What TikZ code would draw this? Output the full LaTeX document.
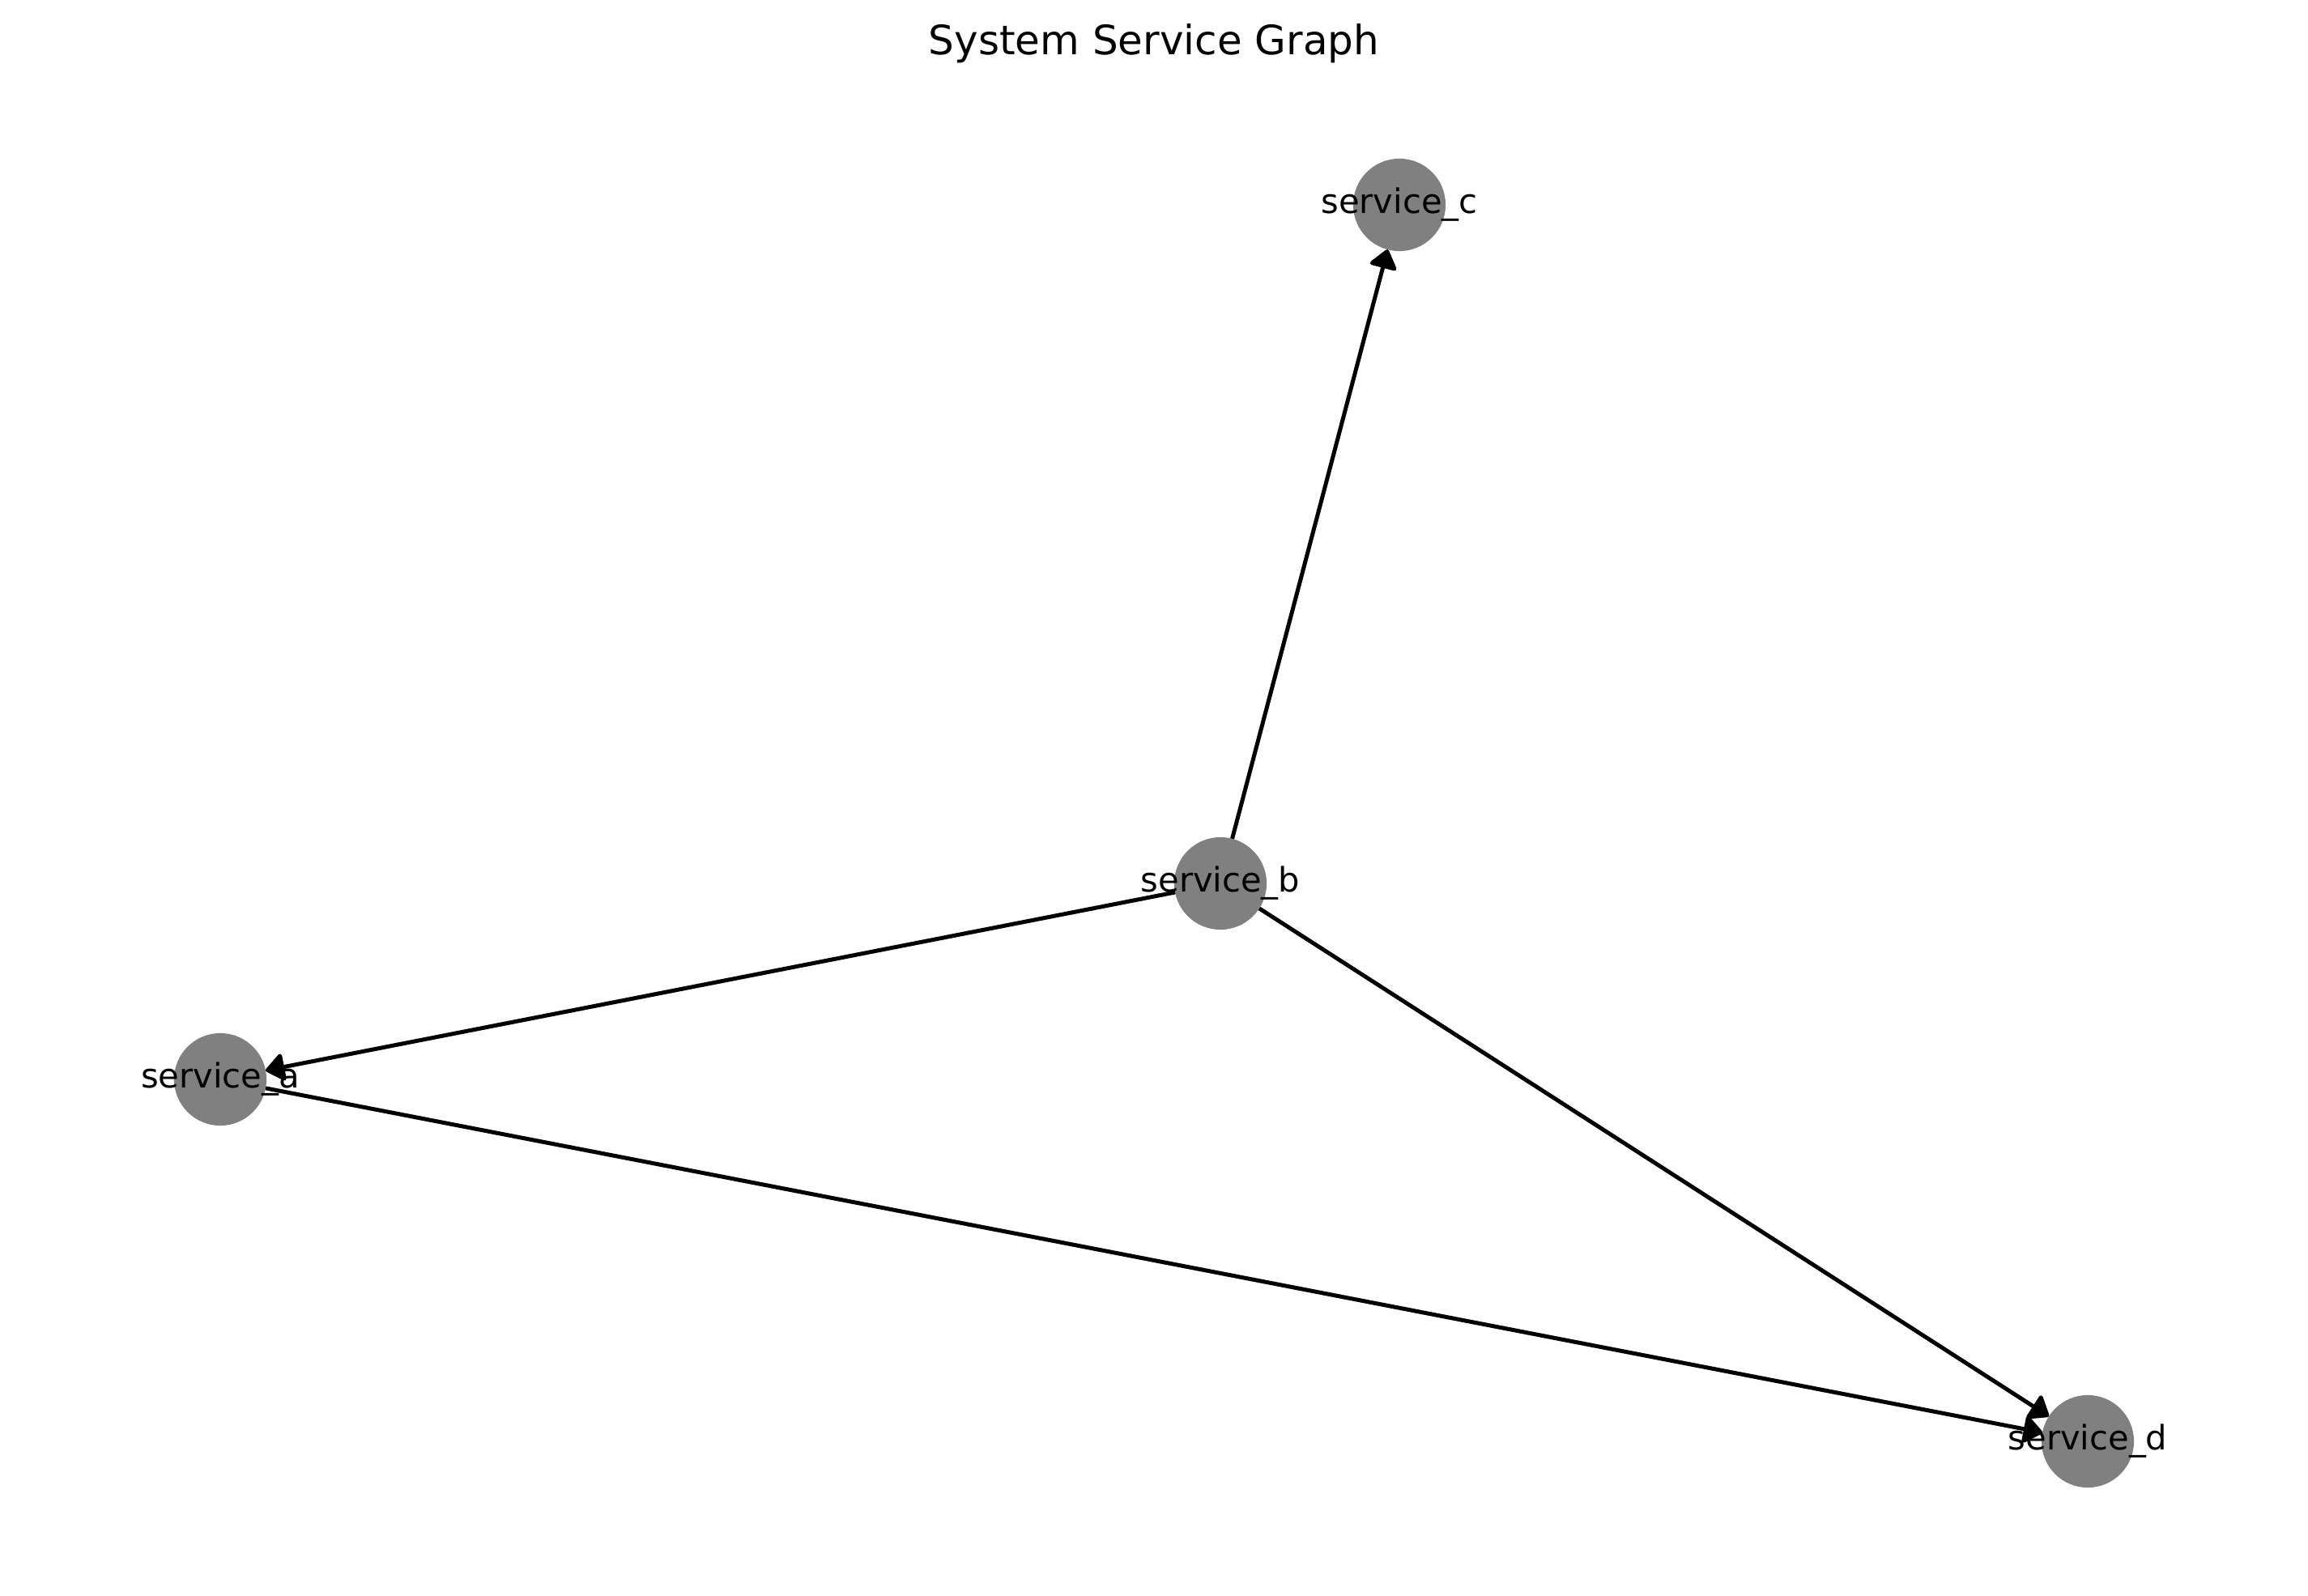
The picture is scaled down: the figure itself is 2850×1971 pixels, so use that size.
\documentclass[tikz,border=0pt]{standalone}
\usepackage{fontspec}
\setmainfont{DejaVu Sans}
\usetikzlibrary{arrows.meta}
\begin{document}
\begin{tikzpicture}[x=0.24pt,y=-0.24pt,
  svc/.style={circle,fill={rgb,255:red,128;green,128;blue,128},draw=none,
    minimum size=27.4pt,inner sep=0pt,outer sep=0pt},
  svclabel/.style={font=\fontsize{10}{12}\selectfont,inner sep=0pt,anchor=center},
  dep/.style={line width=1.2pt,-{Triangle[length=6pt,width=9pt,round]}}]
  \useasboundingbox (0,0) rectangle (2850,1971);
  \node[font=\fontsize{12}{14}\selectfont,anchor=base] (title) at (1425,68) {System Service Graph};
  % service nodes
  \node[svc] (a) at (272,1333) {};
  \node[svc] (b) at (1507,1091) {};
  \node[svc] (c) at (1728,253) {};
  \node[svc] (d) at (2578,1780) {};
  % dependencies
  \draw[dep] (b) -- (c);
  \draw[dep] (b) -- (a);
  \draw[dep] (b) -- (d);
  \draw[dep] (a) -- (d);
  % labels on top
  \node[svclabel] (la) at (a) {service\_a};
  \node[svclabel] (lb) at (b) {service\_b};
  \node[svclabel] (lc) at (c) {service\_c};
  \node[svclabel] (ld) at (d) {service\_d};
\end{tikzpicture}
\end{document}
